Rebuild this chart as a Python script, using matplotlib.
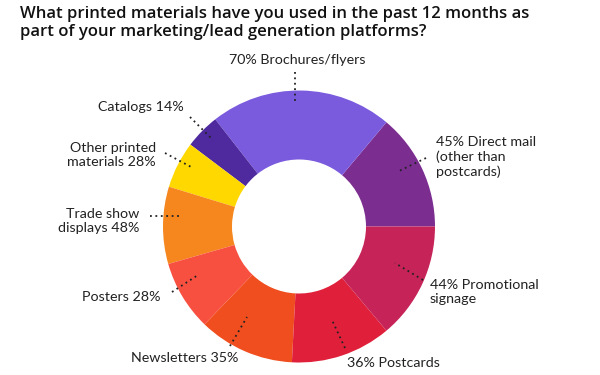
import matplotlib
matplotlib.use("Agg")
import matplotlib.pyplot as plt
import numpy as np

# Data (counter-clockwise from 3 o'clock)
categories = ["Direct mail (other than postcards)", "Brochures/flyers", "Catalogs",
              "Other printed materials", "Trade show displays", "Posters",
              "Newsletters", "Postcards", "Promotional signage"]
percent_labels = [45, 70, 14, 28, 48, 28, 35, 36, 44]
# slice sizes as drawn in the picture (degrees of the ring)
slice_share = [50, 78, 15, 20, 33, 30, 41, 43, 50]
label_texts = ["45% Direct mail\n(other than\npostcards)", "70% Brochures/flyers",
               "Catalogs 14%", "Other printed\nmaterials 28%", "Trade show\ndisplays 48%",
               "Posters 28%", "Newsletters 35%", "36% Postcards", "44% Promotional\nsignage"]
colors = ["#7B2D90", "#7A5BDE", "#4E2A9E", "#FFD800", "#F5871E",
          "#F85040", "#F04E1E", "#E0203A", "#C62458"]

title = "What printed materials have you used in the past 12 months as\npart of your marketing/lead generation platforms?"

W, H = 600, 375
fig = plt.figure(figsize=(6, 3.75), dpi=100)
ax = fig.add_axes([0, 0, 1, 1])
ax.set_xlim(0, W)
ax.set_ylim(0, H)
ax.set_aspect("equal")
ax.axis("off")

cx, cy = 299, H - 226.5
R, r = 136, 67
ax.pie(slice_share, colors=colors, startangle=0, counterclock=True,
       radius=R, center=(cx, cy),
       wedgeprops=dict(width=R - r, edgecolor="none", linewidth=0))
ax.set_xlim(0, W)
ax.set_ylim(0, H)

# label layout: (text x, text y in image px, ha, leader start, leader end)
layout = [
    (436, 157, "left", (426, 158), (397, 172)),
    (297, 60, "center", (295, 72), (295, 103)),
    (184, 107, "right", (190, 117), (213, 140)),
    (156, 155, "right", (165, 153), (193, 168)),
    (139, 221, "right", (150, 216), (182, 216)),
    (161, 297, "right", (172, 292), (198, 275)),
    (238, 358, "right", (230, 346), (247, 317)),
    (347, 363, "left", (345, 348), (332, 320)),
    (430, 292, "left", (423, 280), (395, 263)),
]
for txt, (tx, ty, ha, p0, p1) in zip(label_texts, layout):
    ax.text(tx, H - ty, txt, ha=ha, va="center", fontsize=10.3,
            family=["Lato", "DejaVu Sans"], color="#222222", linespacing=1.25)
    ax.plot([p0[0], p1[0]], [H - p0[1], H - p1[1]], linestyle=(0, (1, 2)),
            color="#222222", linewidth=1.3)

fig.text(20 / W, 1 - 6 / H, title, ha="left", va="top", fontsize=12.0,
         family=["Open Sans", "DejaVu Sans"], weight="semibold",
         color="#111111", linespacing=1.18)

fig.savefig("out.png", dpi=100, facecolor="white")
